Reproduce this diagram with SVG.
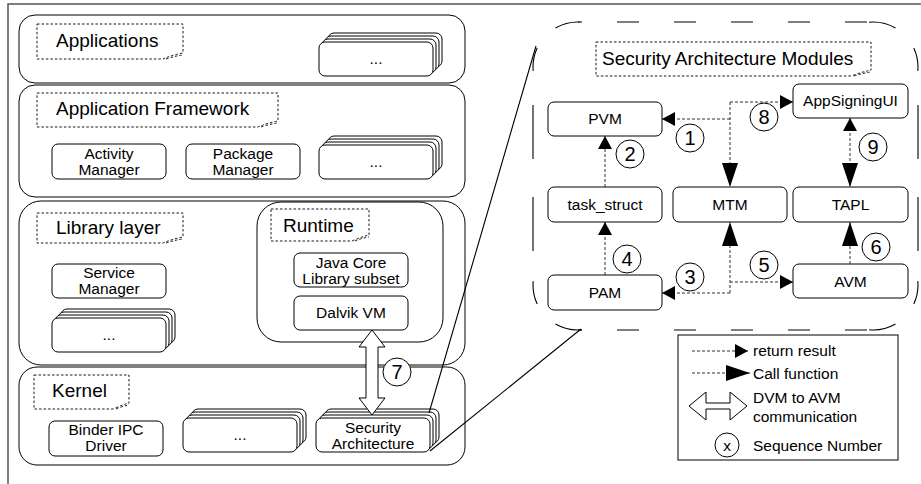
<svg xmlns="http://www.w3.org/2000/svg" xmlns:xlink="http://www.w3.org/1999/xlink" width="921" height="484" viewBox="0 0 921 484">
  <style>
    text { font-family: "Liberation Sans", Arial, sans-serif; fill: #000; }
    .layer { fill: #fff; stroke: #000; stroke-width: 1; }
    .box { fill: #fff; stroke: #000; stroke-width: 1; }
    .label { fill: none; stroke: #000; stroke-width: 0.9; stroke-dasharray: 2.5 2; }
    .ltxt { font-size: 19px; }
    .btxt { font-size: 15.5px; text-anchor: middle; }
    .ntxt { font-size: 20px; text-anchor: middle; }
    .gtxt { font-size: 15.5px; }
    .num { fill: #fff; stroke: #000; stroke-width: 1; }
    .conn { fill: none; stroke: #333; stroke-width: 1; stroke-dasharray: 3 2; }
    .region { fill: none; stroke: #000; stroke-width: 1.1; }
    .hollow { fill: #fff; stroke: #000; stroke-width: 1; }
  </style>
  <defs>
    <marker id="ret" markerUnits="userSpaceOnUse" markerWidth="14" markerHeight="15" refX="13" refY="7" orient="auto-start-reverse">
      <path d="M0,0 L13,7 L0,14 Z" fill="#000"/>
    </marker>
    <marker id="call" markerUnits="userSpaceOnUse" markerWidth="25" markerHeight="17" refX="24" refY="8" orient="auto-start-reverse">
      <path d="M0,0 L24,8 L0,16 Z" fill="#000"/>
    </marker>
    <!-- stack of four rounded cards, front card at the origin -->
    <g id="stack">
      <rect class="box" x="9" y="-9" width="114" height="34" rx="6"/>
      <rect class="box" x="6" y="-6" width="114" height="34" rx="6"/>
      <rect class="box" x="3" y="-3" width="114" height="34" rx="6"/>
      <rect class="box" x="0" y="0" width="114" height="34" rx="6"/>
    </g>
  </defs>

  <rect width="921" height="484" fill="#fff"/>
  <!-- page frame -->
  <path d="M8,484 V4 H921" fill="none" stroke="#555" stroke-width="1.5"/>

  <!-- Applications layer -->
  <g id="applications">
    <rect class="layer" x="19" y="15" width="446" height="68" rx="16"/>
    <path class="label" d="M37,24 H183 V53 Q172,55 163,59 H37 Z"/>
    <path class="label" d="M166,59 Q175,56 183,55"/>
    <text class="ltxt" x="56" y="47">Applications</text>
    <use xlink:href="#stack" x="319" y="42"/>
    <text class="btxt" x="376" y="64">...</text>
  </g>

  <!-- Application Framework layer -->
  <g id="framework">
    <rect class="layer" x="19" y="85" width="446" height="112" rx="16"/>
    <path class="label" d="M37,93 H278 V121 Q267,123 258,127 H37 Z"/>
    <path class="label" d="M261,127 Q270,124 278,123"/>
    <text class="ltxt" x="56" y="115">Application Framework</text>
  </g>
  <g id="activity-manager">
    <rect class="box" x="52" y="144" width="114" height="35" rx="6"/>
    <text class="btxt" x="109" y="159">Activity</text>
    <text class="btxt" x="109" y="175">Manager</text>
  </g>
  <g id="package-manager">
    <rect class="box" x="186" y="144" width="114" height="35" rx="6"/>
    <text class="btxt" x="243" y="159">Package</text>
    <text class="btxt" x="243" y="175">Manager</text>
  </g>
  <g id="framework-more">
    <use xlink:href="#stack" x="319" y="145"/>
    <text class="btxt" x="376" y="167">...</text>
  </g>

  <!-- Library layer -->
  <g id="library">
    <rect class="layer" x="19" y="201" width="446" height="164" rx="22"/>
    <path class="label" d="M37,213 H183 V237 Q172,239 163,243 H37 Z"/>
    <path class="label" d="M166,243 Q175,240 183,239"/>
    <text class="ltxt" x="56" y="234">Library layer</text>
  </g>
  <g id="service-manager">
    <rect class="box" x="52" y="264" width="114" height="34" rx="6"/>
    <text class="btxt" x="109" y="278">Service</text>
    <text class="btxt" x="109" y="294">Manager</text>
  </g>
  <g id="library-more">
    <use xlink:href="#stack" x="52" y="318"/>
    <text class="btxt" x="109" y="340">...</text>
  </g>
  <g id="runtime">
    <rect class="layer" x="257" y="202" width="186" height="140" rx="24"/>
    <path class="label" d="M271,209 H369 V235 Q361,237 352,241 H271 Z"/>
    <path class="label" d="M355,241 Q362,238 369,237"/>
    <text class="ltxt" x="283" y="232">Runtime</text>
  </g>
  <g id="java-core">
    <rect class="box" x="294" y="253" width="114" height="34" rx="6"/>
    <text class="btxt" x="351" y="268">Java Core</text>
    <text class="btxt" x="351" y="284">Library subset</text>
  </g>
  <g id="dalvik-vm">
    <rect class="box" x="294" y="296" width="114" height="34" rx="6"/>
    <text class="btxt" x="351" y="318">Dalvik VM</text>
  </g>

  <!-- Kernel layer -->
  <g id="kernel">
    <rect class="layer" x="19" y="367" width="446" height="98" rx="18"/>
    <path class="label" d="M34,375 H129 V403 Q122,405 113,409 H34 Z"/>
    <path class="label" d="M116,409 Q123,406 129,405"/>
    <text class="ltxt" x="52" y="397">Kernel</text>
  </g>
  <g id="binder-ipc">
    <rect class="box" x="49" y="421" width="114" height="35" rx="6"/>
    <text class="btxt" x="106" y="435">Binder IPC</text>
    <text class="btxt" x="106" y="451">Driver</text>
  </g>
  <g id="kernel-more">
    <use xlink:href="#stack" x="183" y="418"/>
    <text class="btxt" x="240" y="440">...</text>
  </g>
  <g id="security-architecture">
    <use xlink:href="#stack" x="316" y="418"/>
    <text class="btxt" x="373" y="433">Security</text>
    <text class="btxt" x="373" y="449">Architecture</text>
  </g>

  <!-- DVM to AVM link (7) -->
  <g id="dvm-avm">
    <polygon class="hollow" points="372,330 385,347 378,347 378,398 385,398 372,415 359,398 366,398 366,347 359,347"/>
    <circle class="num" cx="397" cy="372" r="14"/>
    <text class="ntxt" x="397" y="379">7</text>
  </g>

  <!-- zoom-out region for the security architecture modules -->
  <g id="modules-region">
    <path class="region" d="M429,413 L536,46 M430,451 L581,329"/>
    <path class="region" d="M533.2,70.9 A45,45 0 0 1 537.2,48 M555.5,28 A45,45 0 0 1 579.6,22
                            M869.1,22.2 A45,45 0 0 1 895.5,28 M913.8,48 A45,45 0 0 1 917.8,70.9
                            M917.8,281.1 A45,45 0 0 1 913.8,304 M895.5,324 A45,45 0 0 1 869.1,329.8
                            M581.9,329.8 A45,45 0 0 1 555.5,324 M537.2,304 A45,45 0 0 1 533.2,281.1"/>
    <path class="region" d="M578,22 H873 M578,330 H873" stroke-dasharray="22 35" stroke-dashoffset="18"/>
    <path class="region" d="M533,67 V285 M918,67 V285" stroke-dasharray="54 38" stroke-dashoffset="54"/>
    <path class="label" d="M596,42 H871 V70 Q862,72 851,76 H596 Z"/>
    <path class="label" d="M854,76 Q863,73 871,72"/>
    <text class="ltxt" x="602" y="65">Security Architecture Modules</text>
  </g>

  <g id="pvm">
    <rect class="box" x="548" y="102" width="114" height="34" rx="6"/>
    <text class="btxt" x="605" y="124">PVM</text>
  </g>
  <g id="appsigningui">
    <rect class="box" x="793" y="84" width="115" height="34" rx="6"/>
    <text class="btxt" x="850.5" y="106">AppSigningUI</text>
  </g>
  <g id="task-struct">
    <rect class="box" x="548" y="187" width="114" height="35" rx="6"/>
    <text class="btxt" x="605" y="210">task_struct</text>
  </g>
  <g id="mtm">
    <rect class="box" x="673" y="187" width="114" height="35" rx="6"/>
    <text class="btxt" x="730" y="210">MTM</text>
  </g>
  <g id="tapl">
    <rect class="box" x="793" y="187" width="115" height="35" rx="6"/>
    <text class="btxt" x="850.5" y="210">TAPL</text>
  </g>
  <g id="pam">
    <rect class="box" x="548" y="275" width="114" height="35" rx="6"/>
    <text class="btxt" x="605" y="298">PAM</text>
  </g>
  <g id="avm">
    <rect class="box" x="793" y="264" width="115" height="34" rx="6"/>
    <text class="btxt" x="850.5" y="287">AVM</text>
  </g>

  <!-- module interactions -->
  <g id="connectors">
    <path class="conn" d="M730,102 V187" marker-end="url(#call)"/>
    <path class="conn" d="M730,119 H662" marker-end="url(#ret)"/>
    <path class="conn" d="M730,102 H793" marker-end="url(#ret)"/>
    <path class="conn" d="M605,187 V136" marker-end="url(#ret)"/>
    <path class="conn" d="M605,275 V222" marker-end="url(#ret)"/>
    <path class="conn" d="M850,118 V187" marker-start="url(#ret)" marker-end="url(#call)"/>
    <path class="conn" d="M850,264 V222" marker-end="url(#call)"/>
    <path class="conn" d="M730,293 V222" marker-end="url(#call)"/>
    <path class="conn" d="M730,293 H662" marker-end="url(#ret)"/>
    <path class="conn" d="M730,282 H793" marker-end="url(#ret)"/>
  </g>

  <!-- sequence numbers -->
  <g id="sequence">
    <circle class="num" cx="690" cy="138" r="14"/><text class="ntxt" x="690" y="145">1</text>
    <circle class="num" cx="630" cy="154" r="14"/><text class="ntxt" x="630" y="161">2</text>
    <circle class="num" cx="690" cy="277" r="14"/><text class="ntxt" x="690" y="284">3</text>
    <circle class="num" cx="627" cy="259" r="14"/><text class="ntxt" x="627" y="266">4</text>
    <circle class="num" cx="764" cy="265" r="14"/><text class="ntxt" x="764" y="272">5</text>
    <circle class="num" cx="876" cy="247" r="14"/><text class="ntxt" x="876" y="254">6</text>
    <circle class="num" cx="764" cy="117" r="14"/><text class="ntxt" x="764" y="124">8</text>
    <circle class="num" cx="873" cy="147" r="14"/><text class="ntxt" x="873" y="154">9</text>
  </g>

  <!-- legend -->
  <g id="legend">
    <rect x="678" y="335" width="220" height="125" fill="#fff" stroke="#000" stroke-width="1"/>
    <path class="conn" d="M692,351 H748" marker-end="url(#ret)"/>
    <text class="gtxt" x="753" y="356">return result</text>
    <path class="conn" d="M692,373 H750" marker-end="url(#call)"/>
    <text class="gtxt" x="753" y="379">Call function</text>
    <polygon class="hollow" points="689,406 706,392 706,403 730,403 730,392 747,406 730,420 730,409 706,409 706,420"/>
    <text class="gtxt" x="753" y="403">DVM to AVM</text>
    <text class="gtxt" x="753" y="422">communication</text>
    <circle class="num" cx="727" cy="445" r="12"/>
    <text class="btxt" x="727" y="451">x</text>
    <text class="gtxt" x="753" y="451">Sequence Number</text>
  </g>
</svg>
